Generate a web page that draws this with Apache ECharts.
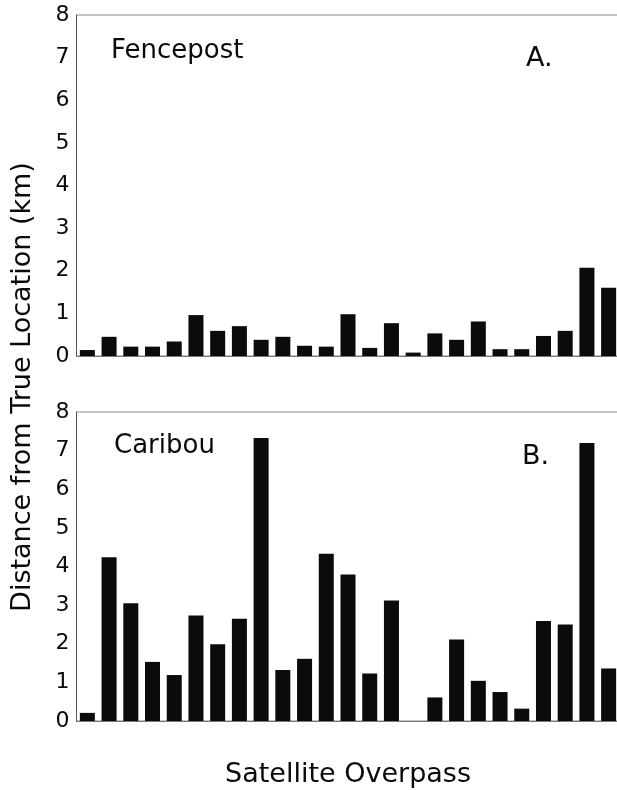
<!DOCTYPE html>
<html>
<head>
<meta charset="utf-8">
<script src="https://cdn.jsdelivr.net/npm/echarts@6/dist/echarts.min.js"></script>
<style>
  html, body { margin: 0; padding: 0; background: #ffffff; }
  #chart { width: 617px; height: 790px; }
</style>
</head>
<body>
<div id="chart"></div>
<script>
// Satellite overpass index (one bar per overpass)
const overpasses = ['1','2','3','4','5','6','7','8','9','10','11','12','13',
                    '14','15','16','17','18','19','20','21','22','23','24','25'];

// Distance from true location (km), panel A: Fencepost
const fencepost = [0.14, 0.45, 0.22, 0.22, 0.34, 0.96, 0.59, 0.70, 0.38, 0.45,
                   0.24, 0.22, 0.98, 0.19, 0.77, 0.08, 0.53, 0.38, 0.81, 0.16,
                   0.16, 0.47, 0.59, 2.07, 1.60];

// Distance from true location (km), panel B: Caribou (overpass 16 has no fix)
const caribou = [0.21, 4.24, 3.05, 1.53, 1.19, 2.73, 1.99, 2.65, 7.33, 1.32,
                 1.61, 4.33, 3.79, 1.23, 3.12, null, 0.61, 2.11, 1.04, 0.75,
                 0.32, 2.59, 2.50, 7.20, 1.36];

// Value axis range shared by both panels
const yMin = 0;
const yMax = 8;
const yStep = 1;

const FONT = '"DejaVu Sans", "Liberation Sans", sans-serif';
const INK = '#0b0b0b';

const chart = echarts.init(document.getElementById('chart'), null, { renderer: 'canvas' });

function makeXAxis(gridIndex) {
  return {
    type: 'category',
    gridIndex: gridIndex,
    data: overpasses,
    boundaryGap: true,
    axisLine: { show: true, lineStyle: { color: '#777', width: 1 } },
    axisTick: { show: false },
    axisLabel: { show: false },
    splitLine: { show: false }
  };
}

function makeYAxis(gridIndex, dropPx) {
  return {
    type: 'value',
    gridIndex: gridIndex,
    min: yMin,
    max: yMax,
    interval: yStep,
    axisLine: { show: true, lineStyle: { color: '#555', width: 1 } },
    axisTick: { show: false },
    splitLine: { show: false },
    axisLabel: {
      color: '#0a0a0a',
      fontFamily: FONT,
      fontSize: 22,
      margin: 7,
      padding: [dropPx * 2, 0, 0, 0]
    }
  };
}

const option = {
  backgroundColor: '#ffffff',
  animation: false,
  grid: [
    { left: 76.5, top: 15, width: 543, height: 341, show: true,
      borderColor: '#888', borderWidth: 1, backgroundColor: 'transparent',
      containLabel: false, outerBoundsMode: 'none' },
    { left: 76.5, top: 412, width: 543, height: 309, show: true,
      borderColor: '#888', borderWidth: 1, backgroundColor: 'transparent',
      containLabel: false, outerBoundsMode: 'none' }
  ],
  xAxis: [makeXAxis(0), makeXAxis(1)],
  yAxis: [makeYAxis(0, 2), makeYAxis(1, 3)],
  series: [
    { name: 'Fencepost', type: 'bar', xAxisIndex: 0, yAxisIndex: 0,
      data: fencepost, barWidth: 15, itemStyle: { color: INK } },
    { name: 'Caribou', type: 'bar', xAxisIndex: 1, yAxisIndex: 1,
      data: caribou, barWidth: 15, itemStyle: { color: INK } }
  ],
  graphic: [
    { type: 'text', left: 111, top: 38,
      style: { text: 'Fencepost', font: '26px ' + FONT, fill: '#0a0a0a' } },
    { type: 'text', left: 526, top: 45,
      style: { text: 'A.', font: '27px ' + FONT, fill: '#0a0a0a' } },
    { type: 'text', left: 114, top: 433,
      style: { text: 'Caribou', font: '26px ' + FONT, fill: '#0a0a0a' } },
    { type: 'text', left: 522, top: 443,
      style: { text: 'B.', font: '27px ' + FONT, fill: '#0a0a0a' } },
    { type: 'text', x: 23, y: 387, rotation: Math.PI / 2,
      style: { text: 'Distance from True Location (km)', font: '27px ' + FONT,
               fill: '#0a0a0a', align: 'center', verticalAlign: 'middle' } },
    { type: 'text', x: 348, y: 775,
      style: { text: 'Satellite Overpass', font: '27px ' + FONT,
               fill: '#0a0a0a', align: 'center', verticalAlign: 'middle' } }
  ]
};

chart.setOption(option);
</script>
</body>
</html>
